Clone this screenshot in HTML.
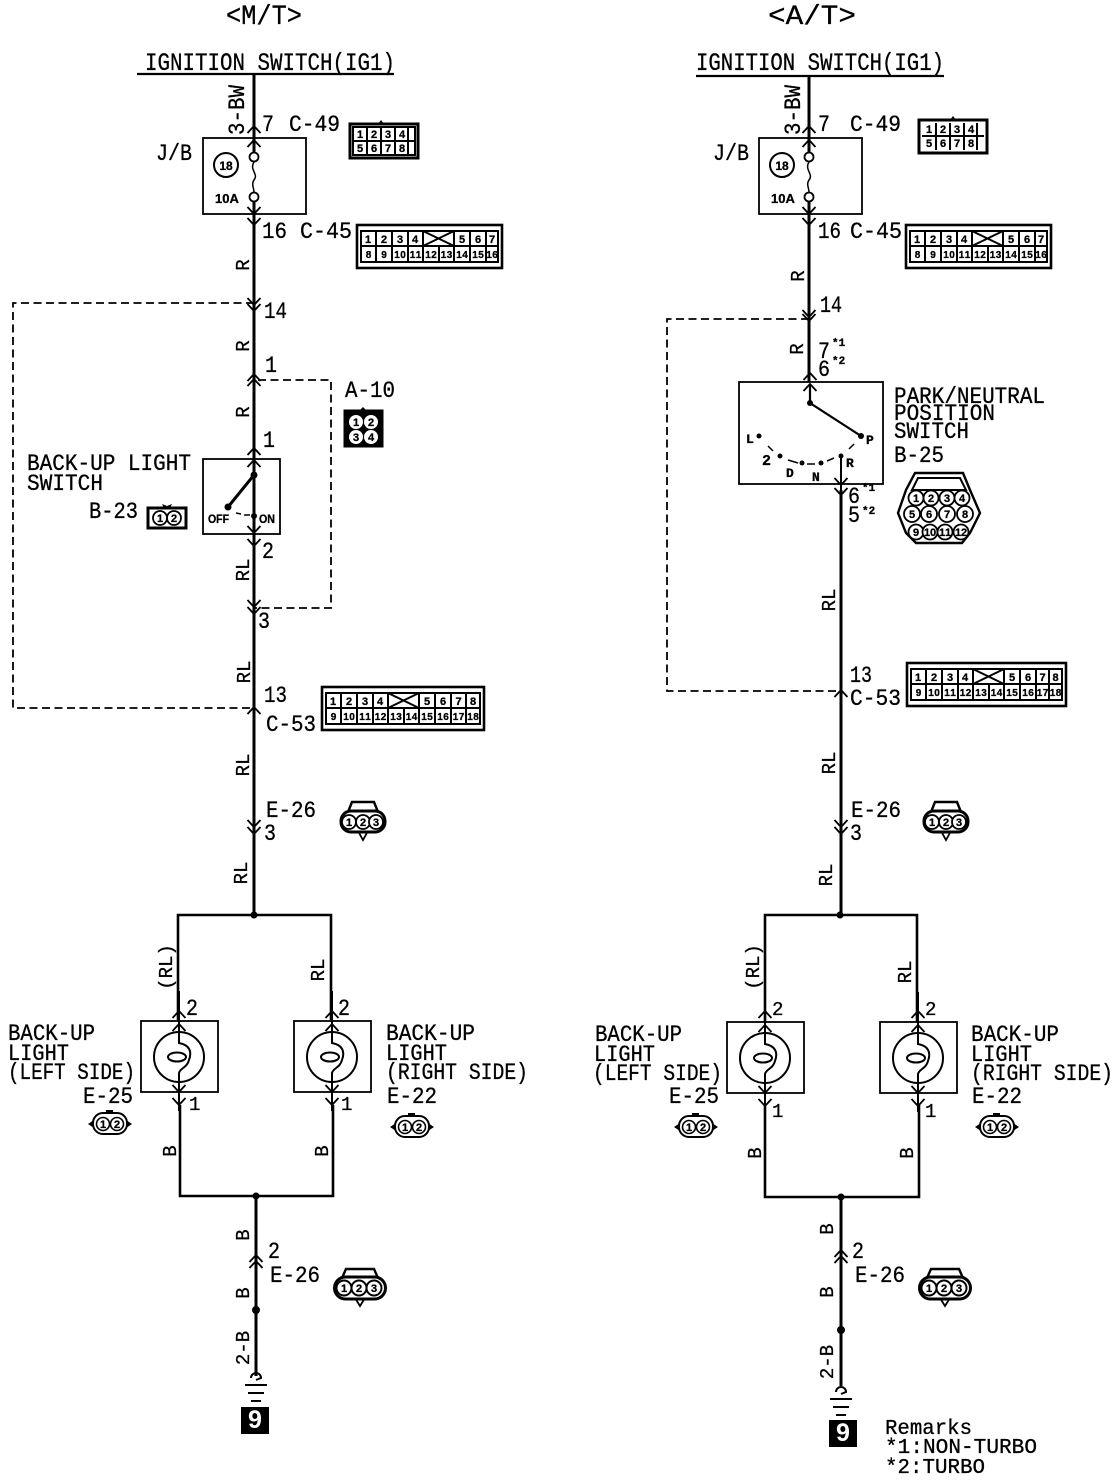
<!DOCTYPE html>
<html><head><meta charset="utf-8"><title>Back-up light circuit</title>
<style>
html,body{margin:0;padding:0;background:#fff}
svg{display:block}
text{font-family:"Liberation Mono","Liberation Sans",monospace;font-size:23px;fill:#000;stroke:#000;stroke-width:.3}
.s{font-size:18px}
.sm{font-size:13px;font-weight:bold;font-family:"Liberation Sans",sans-serif}
.n{font-size:11px;font-weight:bold;font-family:"Liberation Sans",sans-serif;text-anchor:middle;stroke:#000;stroke-width:.3}
.r{text-anchor:middle}
.w{fill:none;stroke:#000;stroke-width:3}
.b{fill:none;stroke:#000;stroke-width:1.8}
.d{fill:none;stroke:#000;stroke-width:1.8;stroke-dasharray:8 4.5}
.g{fill:none;stroke:#000;stroke-width:2}
.o{fill:#fff;stroke:#000;stroke-width:3}
.p{fill:#fff;stroke:#000;stroke-width:2}
</style></head><body>
<svg width="1120" height="1482" viewBox="0 0 1120 1482" xmlns="http://www.w3.org/2000/svg">
<defs>
<path id="au" d="M-6.5 6L0 -1L6.5 6" fill="none" stroke="#000" stroke-width="1.8"/>
<path id="ad" d="M-6.5 -6L0 1L6.5 -6" fill="none" stroke="#000" stroke-width="1.8"/>
<g id="lamp">
<rect x="0" y="0" width="77" height="71" fill="#fff" stroke="#000" stroke-width="1.8"/>
<circle cx="38" cy="36" r="25" fill="none" stroke="#000" stroke-width="2"/>
<path d="M38 -30V22C49 24 51 31 48 39C46 47 39 47 38 52V90" fill="none" stroke="#000" stroke-width="2"/>
<ellipse cx="36" cy="36" rx="9" ry="4.5" fill="none" stroke="#000" stroke-width="2"/>
</g>
<g id="gnd">
<path d="M-5 -2A5 5 0 1 1 5 -2L0 0" fill="none" stroke="#000" stroke-width="2"/>
<path d="M-11 5H11M-8 13H8M-5 21H5" fill="none" stroke="#000" stroke-width="2"/>
</g>
</defs>

<!-- LEFT COLUMN -->
<text x="226" y="24" textLength="76" lengthAdjust="spacingAndGlyphs" style="font-size:28px">&lt;M/T&gt;</text>
<text x="145" y="70" textLength="250" lengthAdjust="spacingAndGlyphs" style="font-size:25px">IGNITION SWITCH(IG1)</text>
<path class="b" d="M137 74H394" style="stroke-width:2.2"/>
<path class="w" d="M254 74V915"/>
<rect class="b" x="203" y="138" width="103" height="76" fill="none"/>
<circle cx="226" cy="165" r="12" fill="none" stroke="#000" stroke-width="2"/>
<text class="n" x="226" y="170" style="font-size:12px">18</text>
<text class="sm" x="215" y="203">10A</text>
<path d="M254 162V192" stroke="#fff" stroke-width="4"/>
<path d="M254 162C249 170 259 174 254 180C251 184 254 188 254 192" fill="none" stroke="#000" stroke-width="1.5"/>
<circle cx="254" cy="157" r="4.5" fill="#fff" stroke="#000" stroke-width="1.8"/>
<circle cx="254" cy="197" r="4.5" fill="#fff" stroke="#000" stroke-width="1.8"/>
<use href="#au" x="254" y="127"/><use href="#au" x="254" y="141"/>
<use href="#ad" x="254" y="213"/><use href="#ad" x="254" y="224"/>
<text x="262" y="131" textLength="12" lengthAdjust="spacingAndGlyphs">7</text><text x="289" y="131" textLength="51" lengthAdjust="spacingAndGlyphs">C-49</text>
<text x="156" y="160" textLength="36" lengthAdjust="spacingAndGlyphs">J/B</text>
<text x="262" y="238" textLength="25" lengthAdjust="spacingAndGlyphs">16</text><text x="300" y="238" textLength="52" lengthAdjust="spacingAndGlyphs">C-45</text>
<text class="r" transform="translate(244,110) rotate(-90)" textLength="50" lengthAdjust="spacingAndGlyphs">3-BW</text>
<text class="r" transform="translate(249,265) rotate(-90)" style="font-size:19px">R</text>
<path class="d" d="M254 303H13V708H254"/>
<use href="#ad" x="254" y="304"/><use href="#ad" x="254" y="310"/>
<text x="264" y="318" textLength="23" lengthAdjust="spacingAndGlyphs">14</text>
<text class="r" transform="translate(249,346) rotate(-90)" style="font-size:19px">R</text>
<use href="#au" x="254" y="380"/><use href="#au" x="254" y="375"/>
<text x="265" y="372" textLength="12" lengthAdjust="spacingAndGlyphs">1</text>
<path class="d" d="M258 380H331V608H254"/>
<text x="345" y="397" textLength="50" lengthAdjust="spacingAndGlyphs">A-10</text>
<text class="r" transform="translate(249,412) rotate(-90)" style="font-size:19px">R</text>
<text x="263" y="447" textLength="12" lengthAdjust="spacingAndGlyphs">1</text>
<rect class="b" x="203" y="459" width="77" height="75" fill="#fff"/>
<use href="#au" x="254" y="449"/><use href="#au" x="254" y="461"/>
<path d="M254 440V475" class="w" style="stroke-width:2"/>
<path d="M254 475L228 507" stroke="#000" stroke-width="3"/>
<circle cx="254" cy="475" r="3.5"/><circle cx="228" cy="507" r="3.5"/><circle cx="254" cy="516" r="3"/>
<path d="M236 513L241 514M244 515H250" stroke="#000" stroke-width="1.5"/>
<path d="M254 516V560" stroke="#000" stroke-width="2"/>
<text class="sm" x="208" y="523" textLength="21" lengthAdjust="spacingAndGlyphs" style="font-size:12px">OFF</text>
<text class="sm" x="259" y="523" textLength="16" lengthAdjust="spacingAndGlyphs" style="font-size:12px">ON</text>
<use href="#ad" x="254" y="532"/><use href="#ad" x="254" y="545"/>
<text x="27" y="470" textLength="164" lengthAdjust="spacingAndGlyphs">BACK-UP LIGHT</text>
<text x="27" y="490" textLength="76" lengthAdjust="spacingAndGlyphs">SWITCH</text>
<text x="89" y="518" textLength="49" lengthAdjust="spacingAndGlyphs">B-23</text>
<text x="262" y="558" textLength="12" lengthAdjust="spacingAndGlyphs">2</text>
<text class="r" transform="translate(249,570) rotate(-90)" style="font-size:19px">RL</text>
<use href="#ad" x="254" y="606"/><use href="#ad" x="254" y="613"/>
<text x="258" y="628" textLength="12" lengthAdjust="spacingAndGlyphs">3</text>
<text class="r" transform="translate(250,672) rotate(-90)" style="font-size:19px">RL</text>
<text x="264" y="702" textLength="23" lengthAdjust="spacingAndGlyphs">13</text>
<use href="#au" x="254" y="708"/>
<text x="266" y="731" textLength="50" lengthAdjust="spacingAndGlyphs">C-53</text>
<text class="r" transform="translate(249,765) rotate(-90)" style="font-size:19px">RL</text>
<text x="266" y="817" textLength="50" lengthAdjust="spacingAndGlyphs">E-26</text>
<use href="#ad" x="254" y="826"/><use href="#ad" x="254" y="833"/>
<text x="264" y="840" textLength="12" lengthAdjust="spacingAndGlyphs">3</text>
<text class="r" transform="translate(247,873) rotate(-90)" style="font-size:19px">RL</text>
<circle cx="254" cy="915" r="3.5"/>
<path class="w" d="M178 1020V915H331V1020" style="stroke-width:2.6"/>
<text class="r" transform="translate(172,967) rotate(-90)" style="font-size:19px">(RL)</text>
<text class="r" transform="translate(324,970) rotate(-90)" style="font-size:19px">RL</text>
<text x="186" y="1015" textLength="12" lengthAdjust="spacingAndGlyphs">2</text><text x="338" y="1015" textLength="12" lengthAdjust="spacingAndGlyphs">2</text>
<use href="#lamp" x="141" y="1021"/><use href="#lamp" x="294" y="1021"/>
<use href="#au" x="179" y="1012"/><use href="#au" x="179" y="1025"/>
<use href="#au" x="332" y="1012"/><use href="#au" x="332" y="1025"/>
<use href="#ad" x="179" y="1091"/><use href="#ad" x="179" y="1104"/>
<use href="#ad" x="332" y="1091"/><use href="#ad" x="332" y="1104"/>
<text x="189" y="1110" style="font-size:19px">1</text><text x="341" y="1110" style="font-size:19px">1</text>
<text x="8" y="1040" textLength="87" lengthAdjust="spacingAndGlyphs">BACK-UP</text>
<text x="8" y="1060" textLength="61" lengthAdjust="spacingAndGlyphs">LIGHT</text>
<text x="8" y="1079" textLength="127" lengthAdjust="spacingAndGlyphs">(LEFT SIDE)</text>
<text x="83" y="1103" textLength="50" lengthAdjust="spacingAndGlyphs">E-25</text>
<text x="386" y="1040" textLength="89" lengthAdjust="spacingAndGlyphs">BACK-UP</text>
<text x="386" y="1060" textLength="61" lengthAdjust="spacingAndGlyphs">LIGHT</text>
<text x="386" y="1079" textLength="142" lengthAdjust="spacingAndGlyphs">(RIGHT SIDE)</text>
<text x="387" y="1103" textLength="50" lengthAdjust="spacingAndGlyphs">E-22</text>
<path class="w" d="M180 1105V1196H333V1105" style="stroke-width:2.6"/>
<text class="r" transform="translate(176,1151) rotate(-90)" style="font-size:19px">B</text>
<text class="r" transform="translate(328,1151) rotate(-90)" style="font-size:19px">B</text>
<circle cx="256" cy="1196" r="3.5"/>
<path class="w" d="M256 1196V1376"/>
<text class="r" transform="translate(249,1235) rotate(-90)" style="font-size:19px">B</text>
<text x="268" y="1258" textLength="12" lengthAdjust="spacingAndGlyphs">2</text>
<use href="#au" x="256" y="1256"/><use href="#au" x="256" y="1262"/>
<text x="270" y="1282" textLength="50" lengthAdjust="spacingAndGlyphs">E-26</text>
<text class="r" transform="translate(249,1293) rotate(-90)" style="font-size:19px">B</text>
<circle cx="256" cy="1310" r="4"/>
<text class="r" transform="translate(249,1348) rotate(-90)" style="font-size:19px">2-B</text>
<use href="#gnd" x="256" y="1380"/>
<rect x="241" y="1407" width="28" height="27"/>
<text x="255" y="1428" text-anchor="middle" style="font-size:25px;font-weight:bold;fill:#fff;stroke:none;font-family:'Liberation Sans',sans-serif">9</text>

<!-- RIGHT COLUMN -->
<text x="768" y="24" textLength="88" lengthAdjust="spacingAndGlyphs" style="font-size:28px">&lt;A/T&gt;</text>
<text x="696" y="70" textLength="248" lengthAdjust="spacingAndGlyphs" style="font-size:25px">IGNITION SWITCH(IG1)</text>
<path class="b" d="M696 76H944" style="stroke-width:2.2"/>
<path class="w" d="M809 76V382"/>
<rect class="b" x="759" y="138" width="103" height="76" fill="none"/>
<circle cx="782" cy="165" r="12" fill="none" stroke="#000" stroke-width="2"/>
<text class="n" x="782" y="170" style="font-size:12px">18</text>
<text class="sm" x="771" y="203">10A</text>
<path d="M809 162V192" stroke="#fff" stroke-width="4"/>
<path d="M809 162C804 170 814 174 809 180C806 184 809 188 809 192" fill="none" stroke="#000" stroke-width="1.5"/>
<circle cx="809" cy="157" r="4.5" fill="#fff" stroke="#000" stroke-width="1.8"/>
<circle cx="809" cy="197" r="4.5" fill="#fff" stroke="#000" stroke-width="1.8"/>
<use href="#au" x="809" y="127"/><use href="#au" x="809" y="141"/>
<use href="#ad" x="809" y="213"/><use href="#ad" x="809" y="224"/>
<text x="818" y="131" textLength="12" lengthAdjust="spacingAndGlyphs">7</text><text x="850" y="131" textLength="51" lengthAdjust="spacingAndGlyphs">C-49</text>
<text x="713" y="160" textLength="36" lengthAdjust="spacingAndGlyphs">J/B</text>
<text x="818" y="238" textLength="23" lengthAdjust="spacingAndGlyphs">16</text><text x="850" y="238" textLength="52" lengthAdjust="spacingAndGlyphs">C-45</text>
<text class="r" transform="translate(800,110) rotate(-90)" textLength="50" lengthAdjust="spacingAndGlyphs">3-BW</text>
<text class="r" transform="translate(804,276) rotate(-90)" style="font-size:19px">R</text>
<text x="820" y="312" textLength="22" lengthAdjust="spacingAndGlyphs">14</text>
<path class="d" d="M809 319H667V691H840"/>
<use href="#ad" x="809" y="316"/><use href="#ad" x="809" y="320"/>
<text class="r" transform="translate(803,349) rotate(-90)" style="font-size:19px">R</text>
<text x="818" y="358" textLength="12" lengthAdjust="spacingAndGlyphs">7</text><text x="832" y="346" style="font-size:11px;font-weight:bold">*1</text>
<text x="818" y="376" textLength="12" lengthAdjust="spacingAndGlyphs">6</text><text x="832" y="364" style="font-size:11px;font-weight:bold">*2</text>
<rect class="b" x="739" y="382" width="144" height="102" fill="#fff"/>
<use href="#au" x="810" y="374"/><use href="#au" x="810" y="385"/>
<path d="M810 385V403L861 436" fill="none" stroke="#000" stroke-width="2.2"/>
<circle cx="810" cy="403" r="3"/><circle cx="861" cy="436" r="3"/><circle cx="759" cy="436" r="2.5"/>
<circle cx="780" cy="456" r="2.5"/><circle cx="802" cy="463" r="2.5"/><circle cx="821" cy="463" r="2.5"/><circle cx="841" cy="456" r="2.5"/>
<path d="M768 446L773 451M788 460L798 463M807 464L815 464M827 461L834 458M849 449L854 444" stroke="#000" stroke-width="1.5"/>
<text class="s" x="746" y="443" style="font-size:13px;font-weight:bold">L</text>
<text class="s" x="762" y="465" style="font-size:15px;font-weight:bold">2</text>
<text class="s" x="786" y="477" style="font-size:13px;font-weight:bold">D</text>
<text class="s" x="812" y="481" style="font-size:13px;font-weight:bold">N</text>
<text class="s" x="846" y="467" style="font-size:13px;font-weight:bold">R</text>
<text class="s" x="866" y="444" style="font-size:13px;font-weight:bold">P</text>
<path class="w" d="M841 490V915"/>
<path d="M841 456V490" stroke="#000" stroke-width="2"/>
<use href="#ad" x="841" y="484"/><use href="#ad" x="841" y="494"/>
<text x="848" y="503" textLength="12" lengthAdjust="spacingAndGlyphs">6</text><text x="862" y="491" style="font-size:11px;font-weight:bold">*1</text>
<text x="848" y="522" textLength="12" lengthAdjust="spacingAndGlyphs">5</text><text x="862" y="514" style="font-size:11px;font-weight:bold">*2</text>
<text x="894" y="403" textLength="151" lengthAdjust="spacingAndGlyphs">PARK/NEUTRAL</text>
<text x="894" y="420" textLength="101" lengthAdjust="spacingAndGlyphs">POSITION</text>
<text x="894" y="438" textLength="75" lengthAdjust="spacingAndGlyphs">SWITCH</text>
<text x="894" y="462" textLength="50" lengthAdjust="spacingAndGlyphs">B-25</text>
<text class="r" transform="translate(835,600) rotate(-90)" style="font-size:19px">RL</text>
<text x="850" y="682" textLength="22" lengthAdjust="spacingAndGlyphs">13</text>
<use href="#au" x="841" y="691"/>
<text x="850" y="705" textLength="51" lengthAdjust="spacingAndGlyphs">C-53</text>
<text class="r" transform="translate(835,763) rotate(-90)" style="font-size:19px">RL</text>
<text x="851" y="817" textLength="50" lengthAdjust="spacingAndGlyphs">E-26</text>
<use href="#ad" x="841" y="826"/><use href="#ad" x="841" y="833"/>
<text x="850" y="840" textLength="12" lengthAdjust="spacingAndGlyphs">3</text>
<text class="r" transform="translate(832,875) rotate(-90)" style="font-size:19px">RL</text>
<circle cx="840" cy="915" r="3.5"/>
<path class="w" d="M765 1022V915H917V1022" style="stroke-width:2.6"/>
<text class="r" transform="translate(759,967) rotate(-90)" style="font-size:19px">(RL)</text>
<text class="r" transform="translate(911,972) rotate(-90)" style="font-size:19px">RL</text>
<text x="772" y="1015" style="font-size:19px">2</text><text x="925" y="1015" style="font-size:19px">2</text>
<use href="#lamp" x="727" y="1022"/><use href="#lamp" x="880" y="1022"/>
<use href="#au" x="765" y="1012"/><use href="#au" x="765" y="1026"/>
<use href="#au" x="918" y="1012"/><use href="#au" x="918" y="1026"/>
<use href="#ad" x="765" y="1092"/><use href="#ad" x="765" y="1105"/>
<use href="#ad" x="918" y="1092"/><use href="#ad" x="918" y="1105"/>
<text x="772" y="1117" style="font-size:19px">1</text><text x="925" y="1117" style="font-size:19px">1</text>
<text x="595" y="1041" textLength="87" lengthAdjust="spacingAndGlyphs">BACK-UP</text>
<text x="594" y="1061" textLength="61" lengthAdjust="spacingAndGlyphs">LIGHT</text>
<text x="593" y="1080" textLength="129" lengthAdjust="spacingAndGlyphs">(LEFT SIDE)</text>
<text x="669" y="1103" textLength="50" lengthAdjust="spacingAndGlyphs">E-25</text>
<text x="971" y="1041" textLength="88" lengthAdjust="spacingAndGlyphs">BACK-UP</text>
<text x="971" y="1061" textLength="61" lengthAdjust="spacingAndGlyphs">LIGHT</text>
<text x="971" y="1080" textLength="142" lengthAdjust="spacingAndGlyphs">(RIGHT SIDE)</text>
<text x="972" y="1103" textLength="50" lengthAdjust="spacingAndGlyphs">E-22</text>
<path class="w" d="M765 1105V1197H919V1105" style="stroke-width:2.6"/>
<text class="r" transform="translate(761,1153) rotate(-90)" style="font-size:19px">B</text>
<text class="r" transform="translate(913,1153) rotate(-90)" style="font-size:19px">B</text>
<circle cx="841" cy="1197" r="3.5"/>
<path class="w" d="M841 1197V1386"/>
<text class="r" transform="translate(833,1229) rotate(-90)" style="font-size:19px">B</text>
<text x="852" y="1258" textLength="12" lengthAdjust="spacingAndGlyphs">2</text>
<use href="#au" x="841" y="1251"/><use href="#au" x="841" y="1257"/>
<text x="855" y="1282" textLength="50" lengthAdjust="spacingAndGlyphs">E-26</text>
<text class="r" transform="translate(833,1292) rotate(-90)" style="font-size:19px">B</text>
<circle cx="841" cy="1330" r="4"/>
<text class="r" transform="translate(833,1362) rotate(-90)" style="font-size:19px">2-B</text>
<use href="#gnd" x="841" y="1394"/>
<rect x="829" y="1420" width="28" height="27"/>
<text x="843" y="1441" text-anchor="middle" style="font-size:25px;font-weight:bold;fill:#fff;stroke:none;font-family:'Liberation Sans',sans-serif">9</text>
<text x="885" y="1434" textLength="87" lengthAdjust="spacingAndGlyphs" style="font-size:21px">Remarks</text>
<text x="885" y="1453" textLength="152" lengthAdjust="spacingAndGlyphs" style="font-size:21px">*1:NON-TURBO</text>
<text x="885" y="1473" textLength="100" lengthAdjust="spacingAndGlyphs" style="font-size:21px">*2:TURBO</text>

<!-- CONNECTORS -->
<!-- C-49 left -->
<g transform="translate(350,124)">
<rect class="o" width="68" height="34"/><path d="M28 0l3-4l3 4z"/>
<path class="g" d="M3 17H65M17 3V31M31 3V31M45 3V31M58 3V31M3 3H65V31H3Z"/>
<text class="n" y="14" x="10 24 38 52">1234</text><text class="n" y="28" x="10 24 38 52">5678</text>
</g>
<!-- C-49 right -->
<g transform="translate(919,120)">
<rect class="o" width="68" height="33"/><path d="M31 0l3-4l3 4z"/>
<path class="g" d="M3 16H65M17 3V30M31 3V30M45 3V30M58 3V30"/>
<text class="n" y="13" x="10 24 38 52">1234</text><text class="n" y="27" x="10 24 38 52">5678</text>
</g>
<!-- C-45 left -->
<g transform="translate(357,225)">
<rect class="o" width="145" height="43" style="stroke-width:2.6"/>
<path class="g" d="M4 6H141V37H4ZM4 21H141M19 6V37M35 6V37M51 6V37M66 6V37M82 21V37M97 6V37M113 6V37M129 6V37M66 6L97 21M97 6L66 21"/>
<text class="n" y="18" x="11 27 43 58 105 121 135">1234567</text>
<text class="n" y="33" x="11.5 27 40 46 55.5 61.5 71 77 86.5 92.5 102 108 118 124 132 138" style="font-size:10px">8910111213141516</text>
</g>
<!-- C-45 right -->
<g transform="translate(906,225)">
<rect class="o" width="145" height="43" style="stroke-width:2.6"/>
<path class="g" d="M4 6H141V37H4ZM4 21H141M19 6V37M35 6V37M51 6V37M66 6V37M82 21V37M97 6V37M113 6V37M129 6V37M66 6L97 21M97 6L66 21"/>
<text class="n" y="18" x="11 27 43 58 105 121 135">1234567</text>
<text class="n" y="33" x="11.5 27 40 46 55.5 61.5 71 77 86.5 92.5 102 108 118 124 132 138" style="font-size:10px">8910111213141516</text>
</g>
<!-- C-53 left -->
<g transform="translate(322,687)">
<rect class="o" width="162" height="43" style="stroke-width:2.6"/>
<path class="g" d="M4 6H158V37H4ZM4 21H158M19 6V37M35 6V37M51 6V37M66 6V37M82 21V37M97 6V37M113 6V37M129 6V37M144 6V37M66 6L97 21M97 6L66 21"/>
<text class="n" y="18" x="11 27 43 58 105 121 136.5 151">12345678</text>
<text class="n" y="33" x="11.5 24 30 40 46 55.5 61.5 71 77 86.5 92.5 102 108 118 124 133.5 139.5 148 154" style="font-size:10px">9101112131415161718</text>
</g>
<!-- C-53 right -->
<g transform="translate(907,663)">
<rect class="o" width="159" height="43" style="stroke-width:2.6"/>
<path class="g" d="M4 6H155V37H4ZM4 21H155M19 6V37M35 6V37M51 6V37M66 6V37M82 21V37M97 6V37M113 6V37M129 6V37M142 6V37M66 6L97 21M97 6L66 21"/>
<text class="n" y="18" x="11 27 43 58 105 121 135.5 148.5">12345678</text>
<text class="n" y="33" x="11.5 24 30 40 46 55.5 61.5 71 77 86.5 92.5 102 108 118 124 132.5 138.5 145.5 151.5" style="font-size:10px">9101112131415161718</text>
</g>
<!-- A-10 -->
<g transform="translate(344,410)">
<rect width="39" height="37" stroke="#000"/><path d="M16 0l3-3l3 3z"/>
<circle cx="12" cy="12" r="7" fill="#fff"/><circle cx="27" cy="12" r="7" fill="#fff"/>
<circle cx="12" cy="27" r="7" fill="#fff"/><circle cx="27" cy="27" r="7" fill="#fff"/>
<text class="n" y="16" x="12 27">12</text><text class="n" y="31" x="12 27">34</text>
</g>
<!-- B-23 -->
<g transform="translate(148,508)">
<rect class="o" width="38" height="20"/><path d="M16 0l-2-4l5 2l5-2l-2 4z"/>
<circle cx="12" cy="10" r="7" fill="#fff" stroke="#000" stroke-width="1.8"/><circle cx="26" cy="10" r="7" fill="#fff" stroke="#000" stroke-width="1.8"/>
<text class="n" y="14" x="12 26">12</text>
</g>
<!-- B-25 -->
<g>
<path d="M915 473H963L970 490L980 513L970 533L962 543H916L906 533L898 513L906 490Z" fill="#fff" stroke="#000" stroke-width="2.4"/>
<path d="M918 478H960L966 490H912Z" fill="none" stroke="#000" stroke-width="2"/>
<g fill="#fff" stroke="#000" stroke-width="1.8">
<circle cx="916" cy="498" r="7.5"/><circle cx="931" cy="498" r="7.5"/><circle cx="947" cy="498" r="7.5"/><circle cx="962" cy="498" r="7.5"/>
<circle cx="912" cy="514" r="8"/><circle cx="929" cy="514" r="8"/><circle cx="947" cy="514" r="8"/><circle cx="965" cy="514" r="8"/>
<circle cx="916" cy="532" r="7.5"/><circle cx="930" cy="532" r="7.5"/><circle cx="945" cy="532" r="7.5"/><circle cx="961" cy="532" r="7.5"/>
</g>
<text class="n" y="502" x="916 931 947 962">1234</text>
<text class="n" y="518" x="912 929 947 965">5678</text>
<text class="n" y="536" x="916 927 933 942 948 958 964">9101112</text>
</g>
<!-- E-26 upper left -->
<g transform="translate(340,800)">
<path d="M8 12L12 2H34L38 12" fill="none" stroke="#000" stroke-width="2.4"/><path d="M18 31L23 40L28 31" fill="none" stroke="#000" stroke-width="1.8"/>
<rect class="o" x="1" y="11" width="44" height="21" rx="10"/>
<g fill="#fff" stroke="#000" stroke-width="1.8"><circle cx="9" cy="22" r="7"/><circle cx="23" cy="22" r="7"/><circle cx="36" cy="22" r="7"/></g>
<text class="n" y="26" x="9 23 36">123</text>
</g>
<!-- E-26 upper right -->
<g transform="translate(923,800)">
<path d="M8 12L12 2H34L38 12" fill="none" stroke="#000" stroke-width="2.4"/><path d="M18 31L23 40L28 31" fill="none" stroke="#000" stroke-width="1.8"/>
<rect class="o" x="1" y="11" width="44" height="21" rx="10"/>
<g fill="#fff" stroke="#000" stroke-width="1.8"><circle cx="9" cy="22" r="7"/><circle cx="23" cy="22" r="7"/><circle cx="36" cy="22" r="7"/></g>
<text class="n" y="26" x="9 23 36">123</text>
</g>
<!-- E-26 lower left -->
<g transform="translate(333,1268)">
<path d="M9 10L13 1H41L45 10" fill="none" stroke="#000" stroke-width="2.4"/><path d="M22 30L27 38L32 30" fill="none" stroke="#000" stroke-width="1.8"/>
<rect class="o" x="1.5" y="9" width="51" height="22" rx="11"/>
<g fill="#fff" stroke="#000" stroke-width="2"><circle cx="11" cy="20" r="7.5"/><circle cx="26" cy="20" r="7.5"/><circle cx="41" cy="20" r="7.5"/></g>
<text class="n" y="24" x="11 26 41">123</text>
</g>
<!-- E-26 lower right -->
<g transform="translate(918,1268)">
<path d="M9 10L13 1H41L45 10" fill="none" stroke="#000" stroke-width="2.4"/><path d="M22 30L27 38L32 30" fill="none" stroke="#000" stroke-width="1.8"/>
<rect class="o" x="1.5" y="9" width="51" height="22" rx="11"/>
<g fill="#fff" stroke="#000" stroke-width="2"><circle cx="11" cy="20" r="7.5"/><circle cx="26" cy="20" r="7.5"/><circle cx="41" cy="20" r="7.5"/></g>
<text class="n" y="24" x="11 26 41">123</text>
</g>
<!-- 2-pin connectors -->
<g transform="translate(88,1110)">
<path d="M0 14L6 10V18ZM44 14L38 10V18Z"/><rect x="18" y="0" width="7" height="4"/>
<rect class="p" x="5" y="3" width="34" height="21" rx="10"/>
<g fill="#fff" stroke="#000" stroke-width="1.6"><circle cx="15" cy="14" r="6.5"/><circle cx="29" cy="14" r="6.5"/></g>
<text class="n" y="18" x="15 29">12</text>
</g>
<g transform="translate(390,1113)">
<path d="M0 14L6 10V18ZM44 14L38 10V18Z"/><rect x="18" y="0" width="7" height="4"/>
<rect class="p" x="5" y="3" width="34" height="21" rx="10"/>
<g fill="#fff" stroke="#000" stroke-width="1.6"><circle cx="15" cy="14" r="6.5"/><circle cx="29" cy="14" r="6.5"/></g>
<text class="n" y="18" x="15 29">12</text>
</g>
<g transform="translate(674,1113)">
<path d="M0 14L6 10V18ZM44 14L38 10V18Z"/><rect x="18" y="0" width="7" height="4"/>
<rect class="p" x="5" y="3" width="34" height="21" rx="10"/>
<g fill="#fff" stroke="#000" stroke-width="1.6"><circle cx="15" cy="14" r="6.5"/><circle cx="29" cy="14" r="6.5"/></g>
<text class="n" y="18" x="15 29">12</text>
</g>
<g transform="translate(975,1113)">
<path d="M0 14L6 10V18ZM44 14L38 10V18Z"/><rect x="18" y="0" width="7" height="4"/>
<rect class="p" x="5" y="3" width="34" height="21" rx="10"/>
<g fill="#fff" stroke="#000" stroke-width="1.6"><circle cx="15" cy="14" r="6.5"/><circle cx="29" cy="14" r="6.5"/></g>
<text class="n" y="18" x="15 29">12</text>
</g>
</svg>
</body></html>
